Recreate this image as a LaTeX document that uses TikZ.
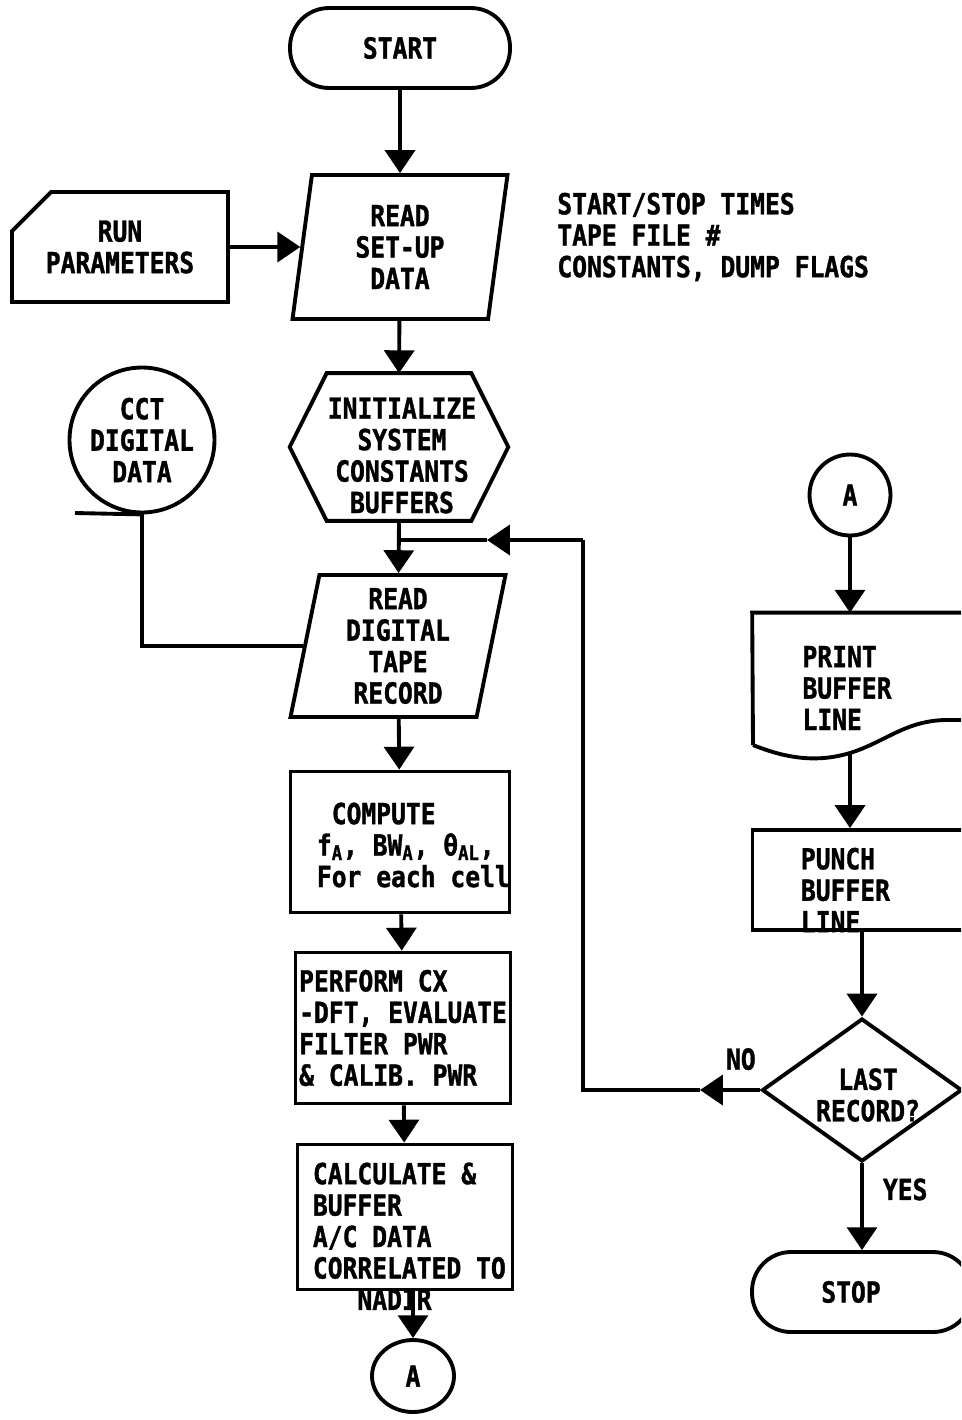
\documentclass[tikz,border=0pt]{standalone}
\usepackage{fontspec}
\setmonofont[FakeStretch=0.85, BoldFeatures={FakeBold=1.2}]{DejaVu Sans Mono}
\usetikzlibrary{arrows.meta, positioning, calc, shapes.geometric, shapes.misc}

\newcommand\flowfont{\ttfamily\bfseries\fontsize{16.5}{17.9}\selectfont}

\tikzset{
  base/.style={draw, line width=2.2pt, inner sep=0pt, font=\flowfont, align=center},
  term/.style={base, rectangle, rounded corners=0.78cm, minimum width=4.4cm, minimum height=1.6cm},
  io/.style={base, trapezium, trapezium left angle=77, trapezium right angle=103,
    trapezium stretches body, minimum width=4.3cm, minimum height=2.88cm},
  proc/.style={base, rectangle},
  card/.style={base, chamfered rectangle, chamfered rectangle corners=north west,
    chamfered rectangle xsep=0.4cm, chamfered rectangle ysep=0.38cm},
  decision/.style={base, diamond, minimum width=4cm, minimum height=2.86cm},
  conn/.style={base, circle},
  txt/.style={font=\flowfont, align=center, inner sep=0pt},
  note/.style={font=\flowfont, align=left, inner sep=0pt},
  flow/.style={line width=2.2pt, -{Triangle[length=13pt,width=17pt]}},
  link/.style={line width=2.2pt}
}

\begin{document}
\begin{tikzpicture}[x=0.02cm, y=-0.02cm]
  \clip (0,0) rectangle (961,1420);
  \useasboundingbox (0,0) rectangle (961,1420);

  % main column
  \node[term] (start) at (400,48) {START};
  \node[io] (readsetup) at (400,247) {READ\\SET-UP\\DATA};
  \node[card, minimum width=4.32cm, minimum height=2.2cm] (runpar) at (120,247) {RUN\\PARAMETERS};
  \node[note, anchor=west] (setupnote) at (557,237) {START/STOP TIMES\\TAPE FILE \#\\CONSTANTS, DUMP FLAGS};
  \node[minimum width=4.36cm, minimum height=2.94cm,
    label={[txt, xshift=0.06cm, yshift=-0.17cm]center:{INITIALIZE\\SYSTEM\\CONSTANTS\\BUFFERS}}] (init) at (399,447) {};
  \node[conn, minimum size=2.9cm] (cct) at (142,440) {CCT\\DIGITAL\\DATA};
  \node[io, trapezium left angle=76, trapezium right angle=104, minimum height=2.84cm] (readtape) at (398,646) {READ\\DIGITAL\\TAPE\\RECORD};
  \node[proc, minimum width=4.38cm, minimum height=2.82cm,
    label={[note, anchor=west, xshift=0.56cm, yshift=-0.06cm]west:{\phantom{F}COMPUTE\\f\textsubscript{A}, BW\textsubscript{A}, θ\textsubscript{AL},\\For each cell}}] (compute) at (400,842) {};
  \node[proc, minimum width=4.3cm, minimum height=3.02cm, align=left] (perform) at (403,1028) {PERFORM CX\\-DFT, EVALUATE\\FILTER PWR\\\& CALIB. PWR};
  \node[proc, minimum width=4.3cm, minimum height=2.9cm,
    label={[note, anchor=west, xshift=0.34cm, yshift=-0.39cm]west:{CALCULATE \&\\BUFFER\\A/C DATA\\CORRELATED TO\\\phantom{CAL}NADIR}}] (calc) at (405,1217) {};
  \node[base, ellipse, minimum width=1.64cm, minimum height=1.44cm] (conA1) at (413,1376) {A};

  % right column
  \node[conn, minimum size=1.62cm] (conA2) at (850,495) {A};
  \node[minimum width=4.94cm, minimum height=2.88cm,
    label={[note, anchor=west, xshift=1cm, yshift=-0.06cm]west:{PRINT\\BUFFER\\LINE}}] (print) at (876,685) {};
  \node[card, minimum width=4.94cm, minimum height=2cm,
    label={[note, anchor=west, xshift=1cm, yshift=-0.2cm]west:{PUNCH\\BUFFER\\LINE}}] (punch) at (876,880) {};
  \node[decision, label={[txt, xshift=0.12cm, yshift=-0.1cm]center:{LAST\\RECORD?}}] (decision) at (862,1090) {};
  \node[term, label={[txt, xshift=-0.22cm]center:STOP}] (stop) at (862,1292) {};

  % hexagon outline
  \draw[link] ([xshift=0.74cm]init.north west) -- ([xshift=-0.74cm]init.north east) -- (init.east)
    -- ([xshift=-0.74cm]init.south east) -- ([xshift=0.74cm]init.south west) -- (init.west) -- cycle;

  % document outline
  \draw[link] (753,745) -- (print.north west) -- (print.north east);
  \draw[link] (753,745) .. controls (790,760) and (820,762) .. (850,753)
    .. controls (885,742) and (905,721) .. (945,720) -- (1000,720);
  \coordinate (printbot) at (850,753);

  % loop coordinates
  \coordinate (noarr) at (700,1090);
  \coordinate (looptop) at (583,540);
  \coordinate (backarr) at (487,540);
  \coordinate (merge) at (init.south |- looptop);
  \coordinate (cctail) at (75,513);

  % connectors
  \draw[flow] (start) -- (readsetup);
  \draw[flow] (runpar) -- (readsetup);
  \draw[flow] (readsetup) -- (init.north);
  \draw[flow] (init.south) -- (readtape);
  \draw[flow] (readtape) -- (compute);
  \draw[flow] (compute) -- (perform);
  \draw[flow] (perform) -- (calc);
  \draw[flow] (calc.south -| conA1) -- (conA1);
  \draw[link] (cct.south) -- (cctail);
  \draw[link] (cct.south) |- (readtape.west);

  \draw[flow] (conA2) -- (conA2 |- print.north);
  \draw[flow] (printbot) -- (printbot |- punch.north);
  \draw[flow] (decision |- punch.south) -- (decision);
  \draw[flow] (decision) -- node[txt, right=0.38cm, pos=0.3] {YES} (stop);
  \draw[flow] (decision) -- node[txt, above=0.36cm, pos=0.32] {NO} (noarr);
  \draw[link] (noarr) -| (looptop);
  \draw[flow] (looptop) -- (backarr);
  \draw[link] (backarr) -- (merge);
\end{tikzpicture}
\end{document}
